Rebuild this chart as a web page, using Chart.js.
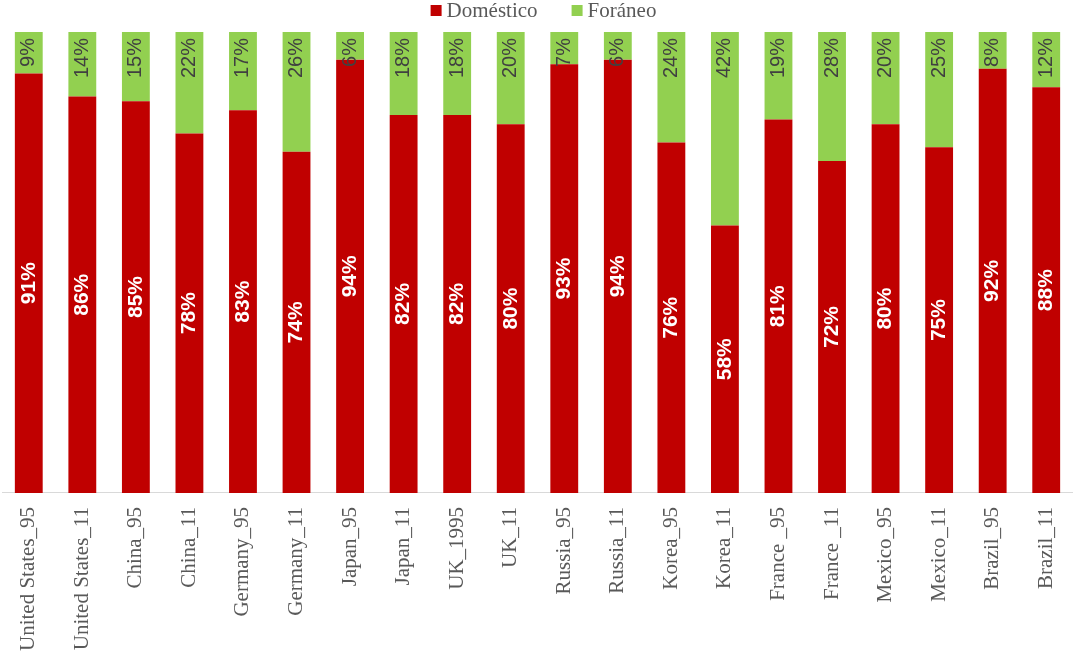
<!DOCTYPE html>
<html>
<head>
<meta charset="utf-8">
<script src="https://cdn.jsdelivr.net/npm/chart.js@4"></script>
<style>
  html, body { margin: 0; padding: 0; background: #fff; }
  #wrap { width: 1073px; height: 657px; }
</style>
</head>
<body>
<div id="wrap"><canvas id="chart"></canvas></div>
<script>
const categories = ['United States_95', 'United States_11', 'China_95', 'China_11', 'Germany_95', 'Germany_11',
  'Japan_95', 'Japan_11', 'UK_1995', 'UK_11', 'Russia_95', 'Russia_11', 'Korea_95', 'Korea_11',
  'France _95', 'France _11', 'Mexico_95', 'Mexico_11', 'Brazil_95', 'Brazil_11'];
const domestico = [91, 86, 85, 78, 83, 74, 94, 82, 82, 80, 93, 94, 76, 58, 81, 72, 80, 75, 92, 88];
const foraneo = [9, 14, 15, 22, 17, 26, 6, 18, 18, 20, 7, 6, 24, 42, 19, 28, 20, 25, 8, 12];

const serif = '"Liberation Serif", "Times New Roman", serif';
const sans = '"Liberation Sans", Arial, sans-serif';

// draws the % labels rotated inside the bars
const barLabels = {
  id: 'barLabels',
  afterDatasetsDraw(chart) {
    const ctx = chart.ctx;
    chart.data.datasets.forEach((ds, i) => {
      const meta = chart.getDatasetMeta(i);
      meta.data.forEach((bar, j) => {
        const text = ds.data[j] + '%';
        ctx.save();
        ctx.translate(bar.x, 0);
        ctx.rotate(-Math.PI / 2);
        ctx.textBaseline = 'middle';
        if (i === 0) {
          ctx.font = 'bold 21px ' + sans;
          ctx.fillStyle = '#ffffff';
          ctx.textAlign = 'center';
          ctx.fillText(text, -(bar.y + bar.base) / 2, 0);
        } else {
          ctx.font = '20px ' + sans;
          ctx.fillStyle = '#404040';
          ctx.textAlign = 'right';
          ctx.fillText(text, -(bar.y + 6), 0);
        }
        ctx.restore();
      });
    });
  }
};

// small legend on top, excel style (box close to text)
const topLegend = {
  id: 'topLegend',
  afterDraw(chart) {
    const ctx = chart.ctx;
    const box = 11, gapText = 5, gapItem = 34;
    ctx.save();
    ctx.font = '21px ' + serif;
    ctx.textBaseline = 'middle';
    const items = chart.data.datasets.map(ds => ({
      label: ds.label, color: ds.backgroundColor, w: ctx.measureText(ds.label).width
    }));
    let total = items.reduce((s, it) => s + box + gapText + it.w, 0) + gapItem * (items.length - 1);
    let x = chart.width / 2 + 7 - total / 2;
    items.forEach(it => {
      ctx.fillStyle = it.color;
      ctx.fillRect(x, 5, box, box);
      ctx.fillStyle = '#595959';
      ctx.fillText(it.label, x + box + gapText, 11);
      x += box + gapText + it.w + gapItem;
    });
    ctx.restore();
  }
};

new Chart(document.getElementById('chart'), {
  type: 'bar',
  data: {
    labels: categories,
    datasets: [
      { label: 'Doméstico', data: domestico, backgroundColor: '#C00000' },
      { label: 'Foráneo', data: foraneo, backgroundColor: '#92D050' }
    ]
  },
  options: {
    responsive: true,
    maintainAspectRatio: false,
    animation: false,
    layout: { padding: { top: 32, left: 2, right: -3, bottom: 0 } },
    datasets: { bar: { barPercentage: 0.52, categoryPercentage: 1 } },
    plugins: {
      legend: { display: false },
      tooltip: { enabled: false }
    },
    scales: {
      x: {
        stacked: true,
        grid: { display: false },
        border: { color: '#d9d9d9', width: 1 },
        afterFit(scale) {
          scale.paddingLeft = 0;
          scale.paddingRight = 0;
        },
        ticks: {
          minRotation: 90,
          maxRotation: 90,
          color: '#595959',
          padding: 6,
          font: { family: serif, size: 21 }
        }
      },
      y: {
        stacked: true,
        display: false,
        min: 0,
        max: 100
      }
    }
  },
  plugins: [barLabels, topLegend]
});
</script>
</body>
</html>
